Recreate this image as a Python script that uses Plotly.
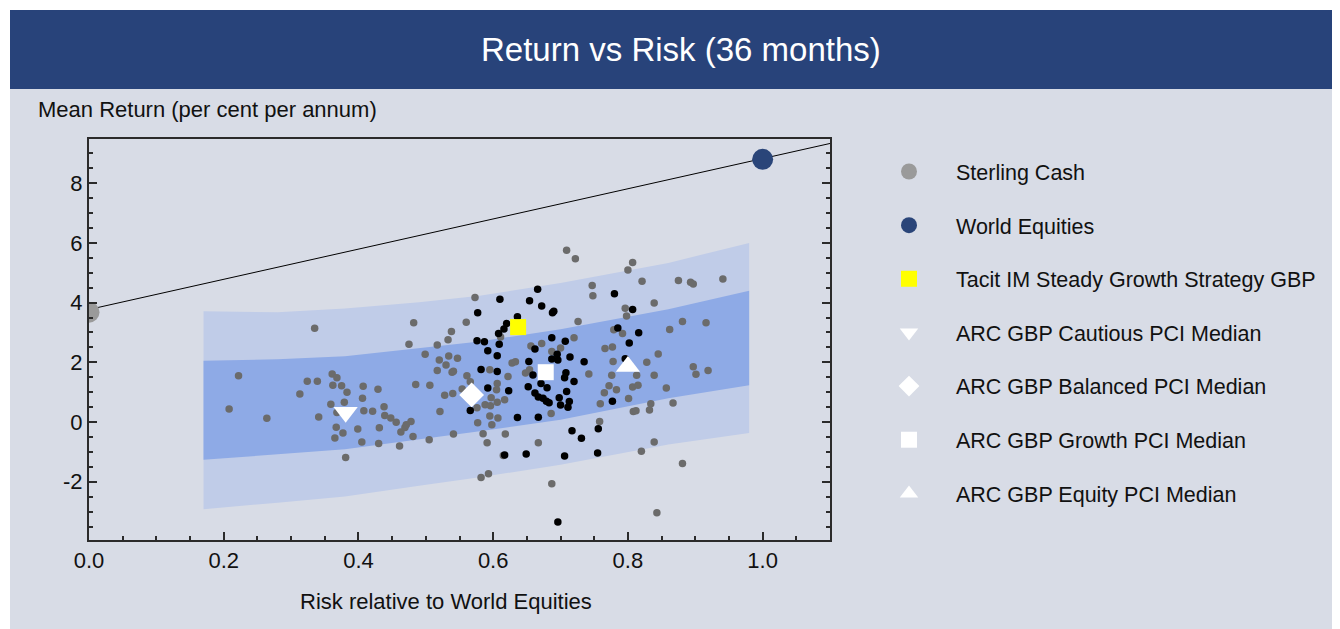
import plotly.graph_objects as go

# ---------------- data ----------------
gray_x = [0.335, 0.222, 0.208, 0.264, 0.324, 0.339, 0.313, 0.341, 0.361, 0.368, 0.362, 0.375, 0.383,
          0.359, 0.368, 0.379, 0.367, 0.377, 0.365, 0.381, 0.399, 0.407, 0.406, 0.408, 0.421, 0.429,
          0.405, 0.430, 0.431, 0.438, 0.439, 0.448, 0.456, 0.463, 0.469, 0.471, 0.478, 0.461, 0.481,
          0.485, 0.482, 0.475,
          0.517, 0.533, 0.499, 0.520, 0.534, 0.530, 0.517, 0.506, 0.528, 0.521, 0.505, 0.540, 0.539,
          0.747, 0.748, 0.573, 0.560, 0.726, 0.538, 0.611, 0.720, 0.779, 0.672, 0.656, 0.687, 0.700,
          0.766, 0.777, 0.547, 0.628, 0.633, 0.648, 0.654, 0.622, 0.595, 0.541, 0.561, 0.566, 0.606,
          0.605, 0.554, 0.597, 0.588, 0.596, 0.606, 0.617, 0.576, 0.778, 0.742, 0.776, 0.772, 0.765,
          0.783, 0.759, 0.595, 0.607, 0.598, 0.577, 0.541, 0.585, 0.591, 0.618, 0.686, 0.667, 0.758,
          0.615, 0.593, 0.582, 0.687,
          0.709, 0.722, 0.807, 0.800, 0.821, 0.839, 0.796, 0.798, 0.875, 0.893, 0.897, 0.941, 0.792,
          0.862, 0.881, 0.916, 0.845, 0.828, 0.839, 0.813, 0.897, 0.901, 0.919, 0.807, 0.815, 0.801,
          0.834, 0.832, 0.808, 0.812, 0.857, 0.867, 0.839, 0.820, 0.881, 0.843]
gray_y = [3.14, 1.55, 0.44, 0.13, 1.37, 1.37, 0.94, 0.17, 1.61, 1.48, 1.23, 1.22, 1.00,
          0.60, 0.32, 0.66, -0.17, -0.37, -0.53, -1.19, -0.23, 1.20, 0.80, 0.38, 0.36, 1.10,
          -0.67, -0.72, -0.19, 0.51, 0.22, 0.14, -0.01, -0.33, -0.18, -0.09, 0.02, -0.80, -0.48,
          1.26, 3.33, 2.61,
          2.58, 2.76, 2.27, 2.08, 2.21, 1.91, 1.73, 1.23, 0.90, 0.35, -0.59, 0.96, 1.67,
          4.57, 4.23, 4.17, 3.34, 3.37, 3.03, 2.85, 2.82, 3.09, 2.63, 2.55, 2.36, 2.48,
          2.46, 2.51, 2.14, 1.98, 2.02, 1.64, 1.75, 1.53, 1.75, 1.70, 1.55, 1.35, 1.29,
          1.08, 1.11, 0.81, 0.58, 0.55, 0.66, 0.75, 0.48, 2.03, 1.61, 1.57, 1.22, 0.98,
          1.08, 0.61, 0.20, 0.14, -0.09, -0.02, -0.40, -0.39, -0.69, -0.40, 0.29, -0.69, 0.02,
          -1.12, -1.73, -1.86, -2.07,
          5.75, 5.47, 5.34, 5.09, 4.72, 3.99, 3.81, 3.55, 4.74, 4.68, 4.62, 4.79, 2.97,
          3.10, 3.37, 3.33, 2.28, 2.00, 1.57, 1.57, 1.85, 1.60, 1.73, 1.17, 1.23, 0.79,
          0.61, 0.40, 0.35, 0.38, 1.14, 0.64, -0.67, -0.98, -1.39, -3.04]

black_x = [0.666, 0.610, 0.654, 0.672, 0.577, 0.688, 0.690, 0.636, 0.620, 0.616, 0.608, 0.609, 0.576,
           0.587, 0.592, 0.606, 0.687, 0.707, 0.662, 0.695, 0.687, 0.653, 0.696, 0.714, 0.735,
           0.582, 0.606, 0.659, 0.708, 0.706, 0.720, 0.671, 0.680, 0.652, 0.592, 0.623, 0.709,
           0.662, 0.667, 0.674, 0.679, 0.683, 0.698, 0.700, 0.713, 0.711, 0.566, 0.636, 0.667,
           0.717, 0.731, 0.756, 0.777, 0.617, 0.649, 0.706, 0.755, 0.780, 0.785,
           0.807, 0.816, 0.802, 0.796, 0.696]
black_y = [4.45, 4.11, 4.06, 3.89, 3.66, 3.66, 3.71, 3.53, 3.30, 3.12, 2.97, 2.61, 2.72,
           2.69, 2.39, 2.22, 2.82, 2.71, 2.45, 2.27, 2.11, 2.03, 2.08, 2.18, 2.02,
           1.76, 1.69, 1.58, 1.65, 1.48, 1.36, 1.29, 1.15, 1.18, 1.14, 1.05, 1.02,
           0.97, 0.84, 0.80, 0.70, 0.65, 0.81, 0.57, 0.69, 0.50, 0.39, 0.15, 0.16,
           -0.29, -0.54, -0.22, 0.70, -1.10, -1.07, -1.14, -1.04, 4.30, 3.15,
           3.77, 2.99, 2.65, 2.12, -3.35]

band_x = [0.17, 0.28, 0.38, 0.49, 0.58, 0.70, 0.86, 0.98]
outer_upper = [3.71, 3.68, 3.80, 4.01, 4.23, 4.66, 5.33, 6.00]
outer_lower = [-2.92, -2.70, -2.49, -2.13, -1.85, -1.43, -0.75, -0.37]
inner_upper = [2.05, 2.10, 2.20, 2.48, 2.70, 3.11, 3.78, 4.40]
inner_lower = [-1.26, -1.08, -0.91, -0.57, -0.31, 0.08, 0.80, 1.23]

line_x = [0.0, 1.1]
line_y = [3.77, 9.33]

named_series = ["Sterling Cash", "World Equities", "Tacit IM Steady Growth Strategy GBP",
                "ARC GBP Cautious PCI Median", "ARC GBP Balanced PCI Median",
                "ARC GBP Growth PCI Median", "ARC GBP Equity PCI Median"]
named_x = [0.0, 1.0, 0.637, 0.381, 0.568, 0.678, 0.800]
named_y = [3.68, 8.80, 3.18, 0.33, 0.91, 1.67, 1.86]

y_tick_vals = [-2, 0, 2, 4, 6, 8]
y_tick_text = ["-2", "0", "2", "4", "6", "8"]
x_tick_vals = [0.0, 0.2, 0.4, 0.6, 0.8, 1.0]
x_tick_text = ["0.0", "0.2", "0.4", "0.6", "0.8", "1.0"]

# ---------------- styles ----------------
named_style = [
    dict(symbol="circle", color="#9a9a9a", size=21),
    dict(symbol="circle", color="#2a4579", size=21),
    dict(symbol="square", color="#ffff00", size=16),
    dict(symbol="triangle-down", color="#ffffff", size=21),
    dict(symbol="diamond", color="#ffffff", size=19),
    dict(symbol="square", color="#ffffff", size=16),
    dict(symbol="triangle-up", color="#ffffff", size=21),
]
FONT = "Liberation Sans, Arial, sans-serif"
BG = "#d8dce6"
NAVY = "#28437a"

# page has an 8px body margin: work in page pixels, convert to figure pixels
OFF = 8
PAGE_W, PAGE_H = 1340, 629
W, H = PAGE_W - OFF, PAGE_H - OFF
L, R, T, B = 89 - OFF, 830 - OFF, 139 - OFF, 540 - OFF


def px_x(p):
    return (p - OFF - L) / (R - L)


def px_y(p):
    return (B - (p - OFF)) / (B - T)


fig = go.Figure()

fig.add_trace(go.Scatter(x=band_x + band_x[::-1], y=outer_upper + outer_lower[::-1],
                         fill="toself", fillcolor="#c0cce8", line=dict(width=0),
                         mode="lines", showlegend=False, hoverinfo="skip"))
fig.add_trace(go.Scatter(x=band_x + band_x[::-1], y=inner_upper + inner_lower[::-1],
                         fill="toself", fillcolor="#8eaae6", line=dict(width=0),
                         mode="lines", showlegend=False, hoverinfo="skip"))
fig.add_trace(go.Scatter(x=line_x, y=line_y, mode="lines",
                         line=dict(color="#000000", width=1), showlegend=False, hoverinfo="skip"))
fig.add_trace(go.Scatter(x=gray_x, y=gray_y, mode="markers",
                         marker=dict(color="#6b6b6b", size=7.5), showlegend=False))
fig.add_trace(go.Scatter(x=black_x, y=black_y, mode="markers",
                         marker=dict(color="#000000", size=7.5), showlegend=False))

draw_order = [3, 4, 5, 6, 2, 0, 1]
for i in draw_order:
    st = named_style[i]
    fig.add_trace(go.Scatter(
        x=[named_x[i]], y=[named_y[i]], mode="markers", name=named_series[i],
        legendrank=i + 1, legendgroup="g%d" % i,
        marker=dict(symbol=st["symbol"], color=st["color"], size=st["size"],
                    line=dict(width=0)),
    ))

fig.update_xaxes(range=[0, 1.1], showgrid=False, zeroline=False,
                 showline=True, linecolor="#2b2b2b", linewidth=2, mirror=True,
                 ticks="inside", ticklen=8, tickcolor="#2b2b2b", tickwidth=1.5,
                 tickvals=x_tick_vals, ticktext=x_tick_text,
                 tickfont=dict(family=FONT, size=22, color="#111111"),
                 minor=dict(dtick=0.05, tick0=0, ticks="inside", ticklen=4,
                            tickcolor="#2b2b2b", tickwidth=1.5, showgrid=False))
fig.update_yaxes(range=[-3.95, 9.48], showgrid=False, zeroline=False,
                 showline=True, linecolor="#2b2b2b", linewidth=2, mirror="ticks",
                 ticks="inside", ticklen=8, tickcolor="#2b2b2b", tickwidth=1.5,
                 tickvals=y_tick_vals, ticktext=y_tick_text,
                 tickfont=dict(family=FONT, size=22, color="#111111"),
                 minor=dict(dtick=0.5, tick0=0, ticks="inside", ticklen=4,
                            tickcolor="#2b2b2b", tickwidth=1.5, showgrid=False))

shapes = [
    dict(type="rect", xref="paper", yref="paper", layer="below",
         x0=px_x(0), x1=px_x(PAGE_W), y0=px_y(0), y1=px_y(10),
         fillcolor="#ffffff", line=dict(width=0)),
    dict(type="rect", xref="paper", yref="paper", layer="below",
         x0=px_x(0), x1=px_x(10), y0=px_y(0), y1=px_y(PAGE_H),
         fillcolor="#ffffff", line=dict(width=0)),
    dict(type="rect", xref="paper", yref="paper", layer="below",
         x0=px_x(10), x1=px_x(PAGE_W), y0=px_y(10), y1=px_y(89),
         fillcolor=NAVY, line=dict(width=0)),
]

annotations = [
    dict(text="Return vs Risk (36 months)", xref="paper", yref="paper",
         x=px_x(681), y=px_y(50), xanchor="center", yanchor="middle", showarrow=False,
         font=dict(family=FONT, size=33, color="#ffffff")),
    dict(text="Mean Return (per cent per annum)", xref="paper", yref="paper",
         x=px_x(36), y=px_y(110), xanchor="left", yanchor="middle", showarrow=False,
         font=dict(family=FONT, size=22, color="#111111")),
    dict(text="Risk relative to World Equities", xref="paper", yref="paper",
         x=px_x(446), y=px_y(601), xanchor="center", yanchor="middle", showarrow=False,
         font=dict(family=FONT, size=22, color="#111111")),
]

fig.update_layout(
    width=W, height=H,
    margin=dict(l=L, r=W - R, t=T, b=H - B, pad=0),
    paper_bgcolor=BG, plot_bgcolor="rgba(0,0,0,0)",
    font=dict(family=FONT, size=21, color="#111111"),
    shapes=shapes, annotations=annotations,
    showlegend=True,
    legend=dict(x=px_x(862), y=px_y(151), xanchor="left", yanchor="top",
                bgcolor="rgba(0,0,0,0)", borderwidth=0,
                font=dict(family=FONT, size=21.5, color="#111111"),
                tracegroupgap=22.7, itemwidth=84, traceorder="grouped"),
)

fig.write_html("out.html")
